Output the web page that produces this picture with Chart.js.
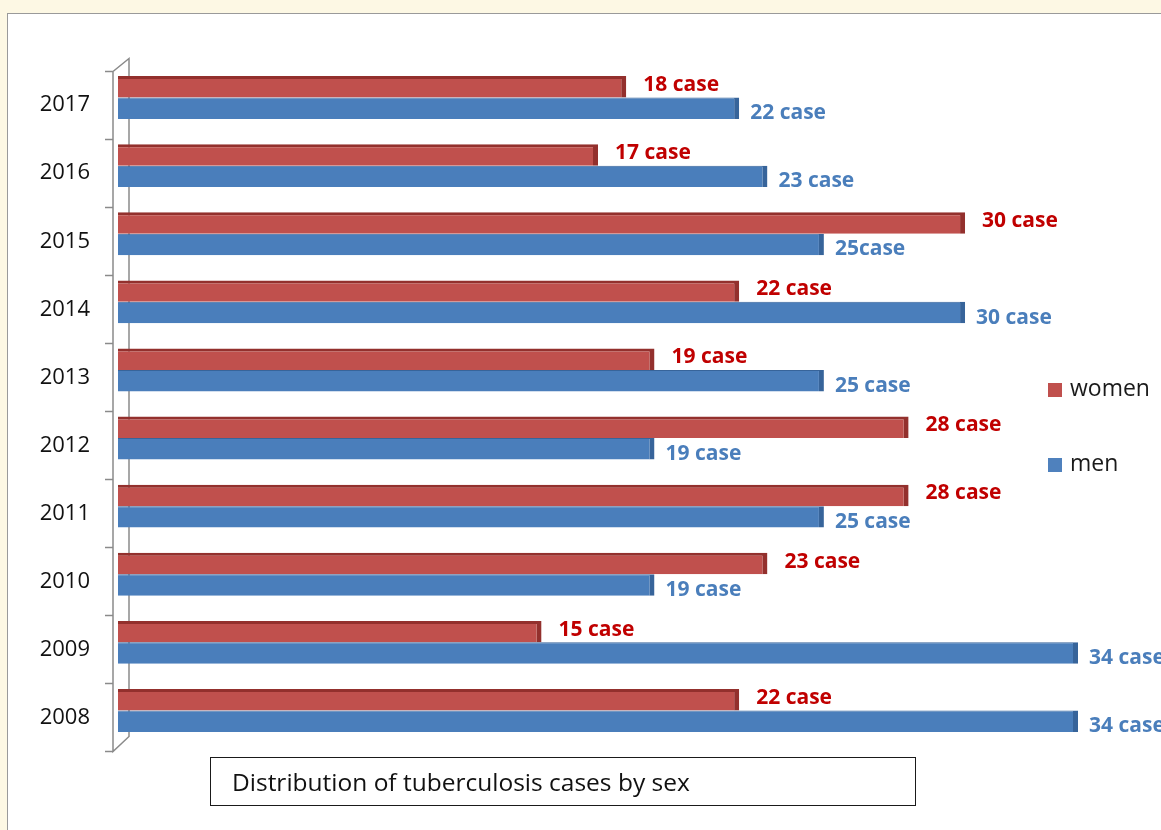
<!DOCTYPE html>
<html>
<head>
<meta charset="utf-8">
<script src="https://cdn.jsdelivr.net/npm/chart.js@4"></script>
<style>
    body { margin: 0; background: #fdf8e4; width: 1161px; height: 830px; overflow: hidden; position: relative; font-family: "Open Sans", sans-serif; }
    #panel { position: absolute; left: 7px; top: 13px; width: 1200px; height: 900px; background: #fff; border: 1px solid #9a9a9a; }
    #chartBox { position: absolute; left: 0; top: 0; width: 1161px; height: 830px; }
    .legend { position: absolute; left: 1048px; font-size: 23px; color: #1a1a1a; line-height: 24px; }
    .legend span { display: inline-block; width: 14px; height: 14px; margin-right: 8px; vertical-align: -1px; }
    #titleBox { position: absolute; left: 210px; top: 757px; width: 706px; height: 49px; border: 1.5px solid #1a1a1a; font-size: 24.5px; line-height: 48px; padding-left: 21px; box-sizing: border-box; color: #111; }
</style>
</head>
<body>
<div id="panel"></div>
<div id="chartBox"><canvas id="caseChart"></canvas></div>
<div class="legend" style="top:375px"><span style="background:#c0504d"></span>women</div>
<div class="legend" style="top:450px"><span style="background:#4f81bd"></span>men</div>
<div id="titleBox">Distribution of tuberculosis cases by sex</div>

<script>
// years top to bottom, as in the picture
const years = ["2017", "2016", "2015", "2014", "2013", "2012", "2011", "2010", "2009", "2008"];
const women = [18, 17, 30, 22, 19, 28, 28, 23, 15, 22];
const men = [22, 23, 25, 30, 25, 19, 25, 19, 34, 34];
const womenLabels = ["18 case", "17 case", "30 case", "22 case", "19 case", "28 case", "28 case", "23 case", "15 case", "22 case"];
const menLabels = ["22 case", "23 case", "25case", "30 case", "25 case", "19 case", "25 case", "19 case", "34 case", "34 case"];

// the 3D-ish wall on the left of the bars
const wallPlugin = {
    id: "wall",
    beforeDatasetsDraw(chart) {
        const ctx = chart.ctx;
        const a = chart.chartArea;
        const front = a.left - 5, back = a.left + 11;
        const top = a.top + 8, bottom = a.bottom + 7;
        ctx.save();
        ctx.strokeStyle = "#8a8a8a";
        ctx.lineWidth = 1.5;
        ctx.beginPath();
        ctx.moveTo(front, top);
        ctx.lineTo(front, bottom);
        ctx.lineTo(back, bottom - 15);
        ctx.lineTo(back, top - 13);
        ctx.lineTo(front, top);
        // tick marks between the years
        for (let i = 0; i <= years.length; i++) {
            const ty = top + (bottom - top) * i / years.length;
            ctx.moveTo(front - 8, ty);
            ctx.lineTo(front, ty);
        }
        ctx.stroke();
        ctx.restore();
    }
};

// value labels next to the bar ends
const labelPlugin = {
    id: "caseLabels",
    afterDatasetsDraw(chart) {
        const ctx = chart.ctx;
        ctx.save();
        ctx.font = "bold 21px 'Open Sans'";
        ctx.textBaseline = "middle";
        ctx.textAlign = "left";
        chart.data.datasets.forEach((ds, di) => {
            const meta = chart.getDatasetMeta(di);
            meta.data.forEach((bar, i) => {
                if (di === 0) {
                    ctx.fillStyle = "#c00000";
                    ctx.fillText(womenLabels[i], bar.x + 17, bar.y - 2);
                } else {
                    ctx.fillStyle = "#4a7ebb";
                    ctx.fillText(menLabels[i], bar.x + 11, bar.y + 5);
                }
            });
        });
        ctx.restore();
    }
};

new Chart(document.getElementById("caseChart"), {
    type: "bar",
    data: {
        labels: years,
        datasets: [
            {
                label: "women",
                data: women,
                backgroundColor: "#c0504d",
                borderColor: "#93302d",
                borderWidth: { top: 3, right: 5, bottom: 0, left: 0 },
                borderSkipped: false
            },
            {
                label: "men",
                data: men,
                backgroundColor: "#4a7ebb",
                borderColor: "#37649a",
                borderWidth: { top: 1, right: 5, bottom: 0, left: 0 },
                borderSkipped: false
            }
        ]
    },
    options: {
        indexAxis: "y",
        responsive: true,
        maintainAspectRatio: false,
        animation: false,
        categoryPercentage: 0.63,
        barPercentage: 1.0,
        layout: {
            padding: { left: 0, top: 63.5, bottom: 85.5, right: 26.5 }
        },
        scales: {
            x: {
                display: false,
                min: 0,
                max: 36
            },
            y: {
                afterFit: s => { s.width = 118; },
                grid: { display: false, drawTicks: false },
                border: { display: false },
                ticks: {
                    padding: 28,
                    labelOffset: 7.5,
                    color: "#111",
                    font: { family: "'Open Sans'", size: 22 }
                }
            }
        },
        plugins: {
            legend: { display: false },
            tooltip: { enabled: false }
        }
    },
    plugins: [wallPlugin, labelPlugin]
});
</script>
</body>
</html>
